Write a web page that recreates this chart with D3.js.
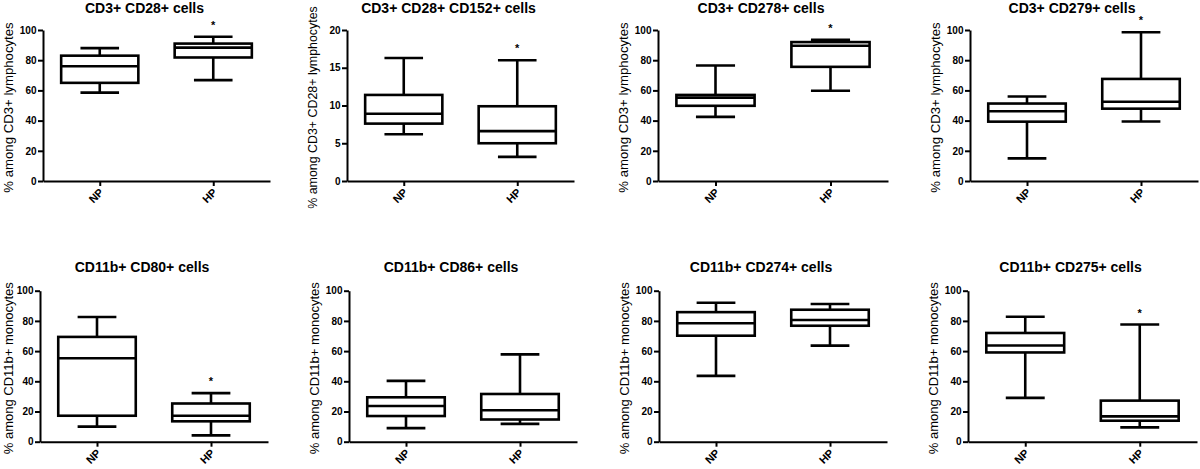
<!DOCTYPE html>
<html>
<head>
<meta charset="utf-8">
<script src="https://cdn.jsdelivr.net/npm/d3@7"></script>
<style>
  html, body { margin: 0; padding: 0; background: #fff; }
  svg { display: block; }
  text { font-family: "Liberation Sans", Arial, Helvetica, sans-serif; fill: #000; }
</style>
</head>
<body>
<script>
// ---------------- DATA ----------------
const panelTitles = [
  "CD3+ CD28+ cells", "CD3+ CD28+ CD152+ cells", "CD3+ CD278+ cells", "CD3+ CD279+ cells",
  "CD11b+ CD80+ cells", "CD11b+ CD86+ cells", "CD11b+ CD274+ cells", "CD11b+ CD275+ cells"
];
const yAxisLabels = [
  "% among CD3+ lymphocytes", "% among CD3+ CD28+ lymphocytes", "% among CD3+ lymphocytes", "% among CD3+ lymphocytes",
  "% among CD11b+ monocytes", "% among CD11b+ monocytes", "% among CD11b+ monocytes", "% among CD11b+ monocytes"
];
const groups = ["NP", "HP"];
const yMax = [100, 20, 100, 100, 100, 100, 100, 100];
const ticksPct = [0, 20, 40, 60, 80, 100];
const ticksSmall = [0, 5, 10, 15, 20];
const yTickSets = [ticksPct, ticksSmall, ticksPct, ticksPct, ticksPct, ticksPct, ticksPct, ticksPct];
// [whisker low, Q1, median, Q3, whisker high]
const npStats = [
  [58.5, 65, 76, 83, 88],
  [6.2, 7.6, 8.9, 11.4, 16.3],
  [42.5, 49.8, 55.2, 57, 76.5],
  [15, 39.3, 46.2, 51.3, 56],
  [10, 17.2, 55.3, 69.4, 82.6],
  [9, 17, 23.6, 29.4, 40.3],
  [43.6, 70.2, 78.4, 85.8, 92],
  [29, 59.1, 63.7, 72, 82.7]
];
const hpStats = [
  [66.8, 81.8, 88.3, 91, 95.5],
  [3.2, 5.0, 6.6, 9.9, 16],
  [59.8, 75.6, 89.6, 92, 93.5],
  [39.4, 47.9, 52.5, 67.6, 98.5],
  [4.2, 13.5, 17.2, 25.3, 32.2],
  [11.8, 14.7, 20.8, 31.6, 57.8],
  [63.6, 76.8, 80.6, 87.4, 91.2],
  [9.5, 13.9, 16.8, 27.2, 77.6]
];
const hpSignificant = [true, true, true, true, true, false, false, true];

// ---------------- LAYOUT ----------------
const layout = [
  {x0: 43,  x1: 270,  y0: 30,    y1: 181,   lab: 13.2},
  {x0: 347, x1: 574,  y0: 30,    y1: 181,   lab: 12.4},
  {x0: 658, x1: 888,  y0: 30,    y1: 181,   lab: 13.2},
  {x0: 970, x1: 1198, y0: 30,    y1: 181,   lab: 13.2},
  {x0: 40,  x1: 268,  y0: 290.7, y1: 441.7, lab: 13},
  {x0: 349, x1: 577,  y0: 290.7, y1: 441.7, lab: 13},
  {x0: 659, x1: 887,  y0: 290.7, y1: 441.7, lab: 13},
  {x0: 968, x1: 1197, y0: 290.7, y1: 441.7, lab: 13}
];

const svg = d3.select("body").append("svg").attr("width", 1200).attr("height", 469);

panelTitles.forEach((title, i) => {
  const L = layout[i];
  const g = svg.append("g");
  const y = d3.scaleLinear().domain([0, yMax[i]]).range([L.y1, L.y0]);
  const x = d3.scalePoint().domain(groups).range([L.x0, L.x1]).padding(0.5);

  // Y axis
  const ya = g.append("g").attr("transform", `translate(${L.x0},0)`)
    .call(d3.axisLeft(y).tickValues(yTickSets[i]).tickSize(5).tickPadding(1.5).tickSizeOuter(0));
  ya.select(".domain").attr("stroke", "#000").attr("stroke-width", 2);
  ya.selectAll(".tick line").attr("stroke", "#000").attr("stroke-width", 2);
  ya.selectAll(".tick text").style("font-size", "10px").style("font-weight", "bold")
    .style("font-family", "'Liberation Sans', Arial, sans-serif");

  // X axis
  const xa = g.append("g").attr("transform", `translate(0,${L.y1})`)
    .call(d3.axisBottom(x).tickSize(5).tickSizeOuter(0));
  xa.select(".domain").attr("stroke", "#000").attr("stroke-width", 2);
  xa.selectAll(".tick line").attr("stroke", "#000").attr("stroke-width", 2);
  xa.selectAll(".tick text")
    .attr("y", 0).attr("dy", 0)
    .attr("text-anchor", "end")
    .attr("transform", "translate(4,12) rotate(-45)")
    .style("font-size", "11px").style("font-weight", "bold")
    .style("font-family", "'Liberation Sans', Arial, sans-serif");

  // Title
  g.append("text")
    .attr("x", (L.x0 + L.x1) / 2 - 12).attr("y", Math.max(L.y0 - 19, 13))
    .attr("text-anchor", "middle")
    .style("font-size", "14px").style("font-weight", "bold")
    .text(title);

  // Y label
  g.append("text")
    .attr("transform", `translate(${Math.max(L.x0 - 30, 12.5)},${(L.y0 + L.y1) / 2 + 2}) rotate(-90)`)
    .attr("text-anchor", "middle")
    .style("font-size", L.lab + "px")
    .text(yAxisLabels[i]);

  // Boxes
  const halfBox = x.step() * 0.34;
  const halfCap = x.step() * 0.17;
  const stats = [npStats[i], hpStats[i]];
  groups.forEach((grp, j) => {
    const [lo, q1, med, q3, hi] = stats[j];
    const cx = x(grp);
    const bg = g.append("g").attr("stroke", "#000").attr("stroke-width", 2.6).attr("fill", "none");
    bg.append("line").attr("x1", cx).attr("x2", cx).attr("y1", y(hi)).attr("y2", y(q3));
    bg.append("line").attr("x1", cx).attr("x2", cx).attr("y1", y(q1)).attr("y2", y(lo));
    bg.append("line").attr("x1", cx - halfCap).attr("x2", cx + halfCap).attr("y1", y(hi)).attr("y2", y(hi));
    bg.append("line").attr("x1", cx - halfCap).attr("x2", cx + halfCap).attr("y1", y(lo)).attr("y2", y(lo));
    bg.append("rect").attr("x", cx - halfBox).attr("width", 2 * halfBox)
      .attr("y", y(q3)).attr("height", y(q1) - y(q3)).attr("fill", "#fff");
    bg.append("line").attr("x1", cx - halfBox).attr("x2", cx + halfBox).attr("y1", y(med)).attr("y2", y(med));
  });

  // Significance star
  if (hpSignificant[i]) {
    g.append("text")
      .attr("x", x("HP")).attr("y", y(hpStats[i][4]) - 8)
      .attr("text-anchor", "middle")
      .style("font-size", "11px").style("font-weight", "bold")
      .text("*");
  }
});
</script>
</body>
</html>
